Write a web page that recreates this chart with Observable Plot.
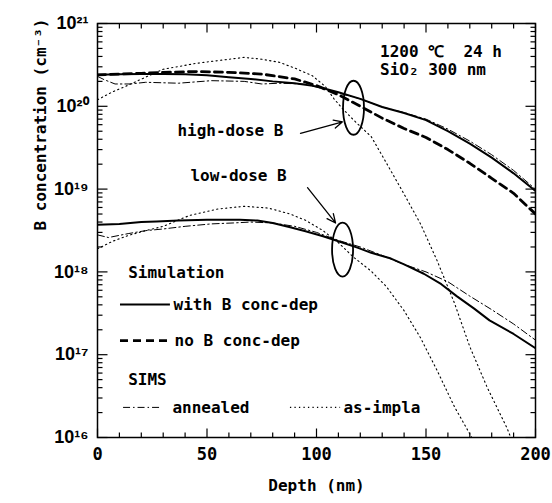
<!DOCTYPE html>
<html><head><meta charset="utf-8">
<script src="https://cdn.jsdelivr.net/npm/d3@7"></script>
<script src="https://cdn.jsdelivr.net/npm/@observablehq/plot@0.6"></script>
<style>
body{margin:0;background:#fff}
</style>
</head><body><div id="chart"></div>
<script>
// ---- data (depth in nm, concentration in cm^-3) ----
const hdSimDepth = [0,10,20,30,40,50,60,70,80,90,100,110,120,130,140,150,160,170,180,190,200];
const hdSimConc  = [2.4e20,2.43e20,2.45e20,2.45e20,2.43e20,2.37e20,2.24e20,2.14e20,2.0e20,1.9e20,1.74e20,1.48e20,1.23e20,9.8e19,8.3e19,6.8e19,5.0e19,3.55e19,2.4e19,1.55e19,9.5e18];

const hdNoDepDepth = [0,10,20,30,45,60,75,90,100,110,120,130,140,150,160,170,180,190,200];
const hdNoDepConc  = [2.4e20,2.45e20,2.5e20,2.57e20,2.63e20,2.57e20,2.45e20,2.14e20,1.78e20,1.38e20,1.0e20,7.2e19,5.4e19,4.2e19,3.0e19,2.05e19,1.35e19,8.9e18,5.0e18];

const hdAnnDepth = [0,3,8,15,22,37,52,67,75,83,94,104,110,120,130,140,150,160,170,180,190,200];
const hdAnnConc  = [2.3e20,2.1e20,1.86e20,1.86e20,1.95e20,1.9e20,2.04e20,2.0e20,1.86e20,1.9e20,1.86e20,1.6e20,1.45e20,1.23e20,9.8e19,8.4e19,7.0e19,5.3e19,3.8e19,2.6e19,1.68e19,1.0e19];

const hdImpDepth = [0,7,14,22,30,45,60,67,75,83,90,98,104,108,112,117,121,125,132,140,147.5,155,163,170,178,187,191];
const hdImpConc  = [1.2e20,1.5e20,1.8e20,2.25e20,2.8e20,3.3e20,3.7e20,3.9e20,3.7e20,3.4e20,2.9e20,2.35e20,1.74e20,1.23e20,9.3e19,6.8e19,5.4e19,4.3e19,2.05e19,8.7e18,3.8e18,1.38e18,4.2e17,1.25e17,4.0e16,1.3e16,7e15];

const ldSimDepth = [0,10,20,27,37,50,58,65,73,80,88,95,103,110,119,125,134,140,149,157,164,172,179,190,200];
const ldSimConc  = [3.7e18,3.8e18,4.0e18,4.07e18,4.17e18,4.27e18,4.27e18,4.27e18,4.17e18,3.9e18,3.47e18,3.1e18,2.7e18,2.35e18,1.95e18,1.7e18,1.45e18,1.23e18,9.5e17,7.1e17,5.1e17,3.6e17,2.6e17,1.78e17,1.2e17];

const ldAnnDepth = [0,5,14,22,30,40,52,62,70,80,90,100,110,120,130,140,150,160,170,180,190,200];
const ldAnnConc  = [2.8e18,2.6e18,2.9e18,3.15e18,3.3e18,3.55e18,3.8e18,3.9e18,4.0e18,3.9e18,3.55e18,3.0e18,2.4e18,2.0e18,1.58e18,1.23e18,1.0e18,7.6e17,5.1e17,3.5e17,2.35e17,1.5e17];

const ldImpDepth = [0,7,14,22,30,42,55,67,78,88,95,103,110,117,125,132,140,147.5,155,163,169,172];
const ldImpConc  = [1.9e18,2.35e18,2.75e18,3.15e18,3.55e18,4.8e18,5.75e18,6.2e18,5.9e18,5.0e18,4.2e18,3.15e18,2.25e18,1.5e18,1.02e18,6.6e17,3.4e17,1.6e17,6.5e16,2.35e16,1.23e16,8.9e15];

const xTickLabels = [0,50,100,150,200];
const xMinorTicks = [10,20,30,40,60,70,80,90,110,120,130,140,160,170,180,190];
const yTickLabels = [1e16,1e17,1e18,1e19,1e20,1e21];
const supers = {"16":"¹⁶","17":"¹⁷","18":"¹⁸","19":"¹⁹","20":"²⁰","21":"²¹"};

// ---- build tables ----
const rows = (ds, cs) => ds.map((d, i) => ({depth: d, conc: cs[i]}));
const yMinorTicks = [];
for (let e = 16; e < 21; e++) for (let m = 2; m <= 9; m++) yMinorTicks.push(m * 10 ** e);

const W = 552, H = 503, ML = 97, MR = 17, MT = 23, MB = 66;
const PW = W - ML - MR, PH = H - MT - MB;
const X0 = 0, X1 = 200, Y0 = 1e16, Y1 = 1e21;
// tick lengths (pixels) converted to data units
const dx = px => px * (X1 - X0) / PW;
const fy = px => 10 ** (px * Math.log10(Y1 / Y0) / PH);
const MAJ = 9, MIN = 5;
const tickRows = [
  ...xTickLabels.map(v => ({x1: v, x2: v, y1: Y0, y2: Y0 * fy(MAJ)})),
  ...xMinorTicks.map(v => ({x1: v, x2: v, y1: Y0, y2: Y0 * fy(MIN)})),
  ...xTickLabels.map(v => ({x1: v, x2: v, y1: Y1, y2: Y1 / fy(MAJ)})),
  ...xMinorTicks.map(v => ({x1: v, x2: v, y1: Y1, y2: Y1 / fy(MIN)})),
  ...yTickLabels.map(v => ({x1: X0, x2: X0 + dx(MAJ + 1), y1: v, y2: v})),
  ...yMinorTicks.map(v => ({x1: X0, x2: X0 + dx(MIN), y1: v, y2: v})),
  ...yTickLabels.map(v => ({x1: X1, x2: X1 - dx(MAJ + 1), y1: v, y2: v})),
  ...yMinorTicks.map(v => ({x1: X1, x2: X1 - dx(MIN), y1: v, y2: v}))
];

const FONT = "'DejaVu Sans Mono', monospace";
const solidStyle = {stroke: "black", strokeWidth: 2};
const dashStyle = {stroke: "black", strokeWidth: 2.8, strokeDasharray: "8,5"};
const dashDotStyle = {stroke: "black", strokeWidth: 1, strokeDasharray: "7,3,1.5,3"};
const dotStyle = {stroke: "black", strokeWidth: 1.1, strokeDasharray: "1.3,3.2"};

// annotations (data coordinates)
const notesMiddle = [
  {depth: 60.7, conc: 5.1e19, text: "high-dose B"},
  {depth: 64.4, conc: 1.46e19, text: "low-dose B"}
];
const notesStart = [
  {depth: 129, conc: 4.6e20, text: "1200 ℃  24 h"},
  {depth: 129, conc: 2.75e20, text: "SiO₂ 300 nm"},
  {depth: 14, conc: 9.8e17, text: "Simulation"},
  {depth: 34.7, conc: 4.05e17, text: "with B conc-dep"},
  {depth: 35.2, conc: 1.48e17, text: "no B conc-dep"},
  {depth: 14, conc: 4.9e16, text: "SIMS"},
  {depth: 34.2, conc: 2.31e16, text: "annealed"},
  {depth: 112.3, conc: 2.31e16, text: "as-impla"}
];
const arrows = [
  {x1: 92.7, y1: 4.7e19, x2: 111.9, y2: 6.5e19},
  {x1: 95.9, y1: 1.04e19, x2: 108.7, y2: 3.9e18}
];
const ellipses = [
  {depth: 116.9, conc: 9.6e19},
  {depth: 111.9, conc: 1.86e18}
];
const ellipseSymbol = {draw(ctx) {
  const rx = 10.5, ry = 27, k = 0.5523;
  ctx.moveTo(rx, 0);
  ctx.bezierCurveTo(rx, k*ry, k*rx, ry, 0, ry);
  ctx.bezierCurveTo(-k*rx, ry, -rx, k*ry, -rx, 0);
  ctx.bezierCurveTo(-rx, -k*ry, -k*rx, -ry, 0, -ry);
  ctx.bezierCurveTo(k*rx, -ry, rx, -k*ry, rx, 0);
  ctx.closePath();
}};
const legendSamples = [
  {x1: 10.5, x2: 33.3, y: 4.05e17, style: solidStyle},
  {x1: 10.5, x2: 33.3, y: 1.48e17, style: dashStyle},
  {x1: 11.9, x2: 28.8, y: 2.31e16, style: dashDotStyle},
  {x1: 88.1, x2: 111, y: 2.31e16, style: dotStyle}
];

const chart = Plot.plot({
  width: W, height: H,
  marginLeft: ML, marginRight: MR, marginTop: MT, marginBottom: MB,
  style: {fontFamily: FONT, fontSize: "16px", fontWeight: "bold", background: "#fff", color: "black"},
  x: {domain: [X0, X1]},
  y: {type: "log", domain: [Y0, Y1]},
  marks: [
    Plot.frame({stroke: "black", strokeWidth: 1.5, fill: "none"}),
    // axes: labels
    Plot.axisX({ticks: xTickLabels, tickSize: 0, tickPadding: 10, tickFormat: d => String(d), label: null, fontSize: 17}),
    Plot.axisY({ticks: yTickLabels, tickSize: 0, tickPadding: 9, label: null,
      tickFormat: d => "10" + supers[String(Math.round(Math.log10(d)))],
      fontSize: 18, fontFamily: "'Liberation Sans', Arial, sans-serif"}),
    // axis titles
    Plot.text(["Depth (nm)"], {frameAnchor: "bottom", dy: 53, fontSize: 16, fontFamily: FONT, fontWeight: "bold"}),
    Plot.text(["B concentration (cm⁻³)"], {frameAnchor: "left", dx: -57, rotate: -90, fontSize: 16, fontFamily: FONT, fontWeight: "bold"}),
    // series
    Plot.line(rows(hdImpDepth, hdImpConc), {x: "depth", y: "conc", ...dotStyle, clip: true}),
    Plot.line(rows(ldImpDepth, ldImpConc), {x: "depth", y: "conc", ...dotStyle, clip: true}),
    Plot.line(rows(hdAnnDepth, hdAnnConc), {x: "depth", y: "conc", ...dashDotStyle, clip: true}),
    Plot.line(rows(ldAnnDepth, ldAnnConc), {x: "depth", y: "conc", ...dashDotStyle, clip: true}),
    Plot.line(rows(hdNoDepDepth, hdNoDepConc), {x: "depth", y: "conc", ...dashStyle, clip: true}),
    Plot.line(rows(hdSimDepth, hdSimConc), {x: "depth", y: "conc", ...solidStyle, clip: true}),
    Plot.line(rows(ldSimDepth, ldSimConc), {x: "depth", y: "conc", ...solidStyle, clip: true}),
    // inward ticks on all four sides
    Plot.link(tickRows, {x1: "x1", x2: "x2", y1: "y1", y2: "y2", stroke: "black", strokeWidth: 1.2}),
    // annotations
    Plot.dot(ellipses, {x: "depth", y: "conc", symbol: ellipseSymbol, r: 10, stroke: "black", fill: "none", strokeWidth: 1.8}),
    Plot.arrow(arrows, {x1: "x1", y1: "y1", x2: "x2", y2: "y2", stroke: "black", strokeWidth: 1.3, headLength: 11, headAngle: 50}),
    ...legendSamples.map(s => Plot.ruleY([s], {y: "y", x1: "x1", x2: "x2", ...s.style})),
    Plot.text(notesMiddle, {x: "depth", y: "conc", text: "text", textAnchor: "middle", fontSize: 16, fontFamily: FONT, fontWeight: "bold"}),
    Plot.text(notesStart, {x: "depth", y: "conc", text: "text", textAnchor: "start", fontSize: 16, fontFamily: FONT, fontWeight: "bold"})
  ]
});
document.getElementById("chart").appendChild(chart);
</script>
</body></html>
